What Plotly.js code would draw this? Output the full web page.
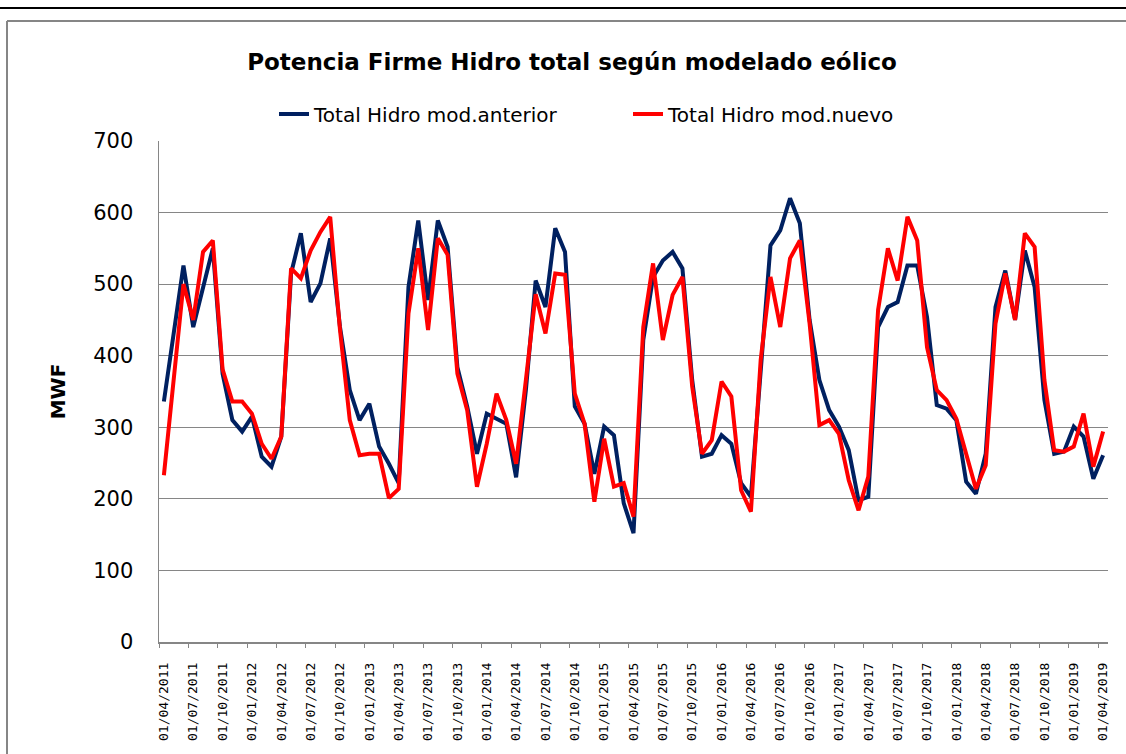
<!DOCTYPE html>
<html>
<head>
<meta charset="utf-8">
<script src="https://cdn.plot.ly/plotly-3.0.1.min.js"></script>
<style>html,body{margin:0;padding:0;background:#fff;}#chart{width:1126px;height:754px;}</style>
</head>
<body>
<div id="chart"></div>
<script>
var months = [
"01/04/2011","01/05/2011","01/06/2011","01/07/2011","01/08/2011","01/09/2011","01/10/2011","01/11/2011","01/12/2011",
"01/01/2012","01/02/2012","01/03/2012","01/04/2012","01/05/2012","01/06/2012","01/07/2012","01/08/2012","01/09/2012","01/10/2012","01/11/2012","01/12/2012",
"01/01/2013","01/02/2013","01/03/2013","01/04/2013","01/05/2013","01/06/2013","01/07/2013","01/08/2013","01/09/2013","01/10/2013","01/11/2013","01/12/2013",
"01/01/2014","01/02/2014","01/03/2014","01/04/2014","01/05/2014","01/06/2014","01/07/2014","01/08/2014","01/09/2014","01/10/2014","01/11/2014","01/12/2014",
"01/01/2015","01/02/2015","01/03/2015","01/04/2015","01/05/2015","01/06/2015","01/07/2015","01/08/2015","01/09/2015","01/10/2015","01/11/2015","01/12/2015",
"01/01/2016","01/02/2016","01/03/2016","01/04/2016","01/05/2016","01/06/2016","01/07/2016","01/08/2016","01/09/2016","01/10/2016","01/11/2016","01/12/2016",
"01/01/2017","01/02/2017","01/03/2017","01/04/2017","01/05/2017","01/06/2017","01/07/2017","01/08/2017","01/09/2017","01/10/2017","01/11/2017","01/12/2017",
"01/01/2018","01/02/2018","01/03/2018","01/04/2018","01/05/2018","01/06/2018","01/07/2018","01/08/2018","01/09/2018","01/10/2018","01/11/2018","01/12/2018",
"01/01/2019","01/02/2019","01/03/2019","01/04/2019"
];

var tickLabels = [
"01/04/2011","01/07/2011","01/10/2011","01/01/2012","01/04/2012","01/07/2012","01/10/2012",
"01/01/2013","01/04/2013","01/07/2013","01/10/2013","01/01/2014","01/04/2014","01/07/2014","01/10/2014",
"01/01/2015","01/04/2015","01/07/2015","01/10/2015","01/01/2016","01/04/2016","01/07/2016","01/10/2016",
"01/01/2017","01/04/2017","01/07/2017","01/10/2017","01/01/2018","01/04/2018","01/07/2018","01/10/2018",
"01/01/2019","01/04/2019"
];

var hidroAnterior = [
336,435,526,440,496,550,375,310,294,
315,259,245,287,515,571,475,501,564,440,352,310,
333,273,249,222,496,589,478,589,552,384,329,263,
319,312,305,230,352,505,468,578,545,329,305,235,
301,289,194,152,422,510,533,545,522,366,259,263,
289,277,222,203,384,554,575,620,585,450,366,324,
301,268,198,203,440,468,475,526,526,454,331,326,
310,224,207,263,468,519,450,547,496,338,263,266,
301,287,228,261
];

var hidroNuevo = [
233,373,500,450,545,561,381,336,336,
319,277,256,287,522,508,547,573,594,436,310,261,
263,263,201,214,459,550,436,564,541,375,324,217,
277,347,310,249,366,486,431,515,513,347,305,196,
284,217,222,175,440,529,422,485,510,357,263,282,
364,343,212,182,394,510,440,536,561,445,303,310,
291,226,184,231,464,550,505,594,561,412,352,338,
312,263,214,247,445,515,450,571,552,366,268,266,
273,319,245,294
];

// layout geometry
var W = 1126, H = 754;
var L = 159, R = 18, T = 141, B = 112;
var pw = W - L - R, ph = H - T - B;
function px(p){ return (p - L) / pw; }
function py(q){ return (H - B - q) / ph; }

// tick marks at category boundaries (every 3rd)
var boundaryTicks = [];
for (var k = 0; k < tickLabels.length; k++) boundaryTicks.push(k * 3 - 0.5);

var traces = [
  {x: months, y: hidroAnterior, type: 'scatter', mode: 'lines', name: 'Total Hidro mod.anterior',
   line: {color: '#002060', width: 4}},
  {x: months, y: hidroNuevo, type: 'scatter', mode: 'lines', name: 'Total Hidro mod.nuevo',
   line: {color: '#FF0000', width: 4}},
  {x: [boundaryTicks[0]], y: [null], xaxis: 'x2', yaxis: 'y', showlegend: false, hoverinfo: 'skip',
   type: 'scatter', mode: 'lines'}
];

var layout = {
  width: W, height: H,
  margin: {l: L, r: R, t: T, b: B},
  paper_bgcolor: '#ffffff', plot_bgcolor: '#ffffff',
  font: {family: 'DejaVu Sans', color: '#000000'},
  title: {
    text: 'Potencia Firme Hidro total según modelado eólico',
    font: {family: 'DejaVu Sans', size: 23, weight: 'bold', color: '#000000'},
    xref: 'container', x: 572 / W, xanchor: 'center',
    yref: 'container', y: 1 - 62 / H, yanchor: 'middle'
  },
  showlegend: true,
  legend: {
    orientation: 'h', x: px(274), xanchor: 'left', y: py(114), yanchor: 'middle',
    entrywidth: 309, entrywidthmode: 'pixels',
    font: {family: 'DejaVu Sans', size: 20, color: '#000000'},
    bgcolor: 'rgba(0,0,0,0)', borderwidth: 0, traceorder: 'normal'
  },
  xaxis: {
    type: 'category', range: [-0.5, 96.5], autorange: false,
    tickmode: 'array', tickvals: tickLabels, ticktext: tickLabels,
    tickangle: -90, ticks: '', ticklabelstandoff: 14,
    tickfont: {family: 'DejaVu Sans Mono', size: 13, color: '#000000'},
    showgrid: false, showline: true, linecolor: '#868686', linewidth: 1.5,
    zeroline: false
  },
  xaxis2: {
    overlaying: 'x', type: 'linear', range: [-0.5, 96.5], autorange: false,
    tickmode: 'array', tickvals: boundaryTicks, ticks: 'outside', ticklen: 5,
    tickcolor: '#868686', tickwidth: 1, showticklabels: false,
    showgrid: false, showline: false, zeroline: false, side: 'bottom'
  },
  yaxis: {
    range: [0, 700], autorange: false, dtick: 100, tick0: 0,
    ticks: '', ticklabelstandoff: 20,
    tickfont: {family: 'DejaVu Sans', size: 21, color: '#000000'},
    showgrid: true, gridcolor: '#868686', gridwidth: 1,
    showline: true, linecolor: '#868686', linewidth: 1.5, zeroline: false,
    title: {text: 'MWF', font: {family: 'DejaVu Sans', size: 20, weight: 'bold', color: '#000000'}, standoff: 22}
  },
  shapes: [
    {type: 'line', xref: 'paper', yref: 'paper', x0: px(0), x1: px(W), y0: py(8), y1: py(8),
     line: {color: '#000000', width: 2}},
    {type: 'line', xref: 'paper', yref: 'paper', x0: px(7), x1: px(W), y0: py(21), y1: py(21),
     line: {color: '#868686', width: 2}},
    {type: 'line', xref: 'paper', yref: 'paper', x0: px(7), x1: px(7), y0: py(21), y1: py(H),
     line: {color: '#868686', width: 2}}
  ]
};

Plotly.newPlot('chart', traces, layout, {displayModeBar: false, staticPlot: true});
</script>
</body>
</html>
